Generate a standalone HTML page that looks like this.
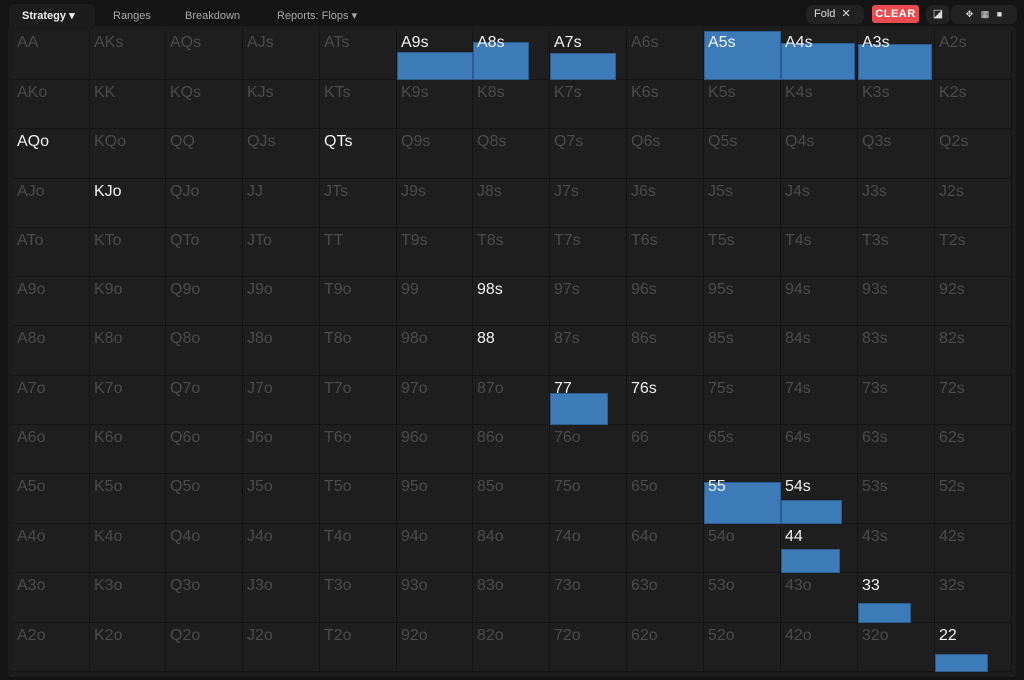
<!DOCTYPE html><html><head><style>
body{margin:0;width:1024px;height:680px;background:#141414;font-family:"Liberation Sans",sans-serif;overflow:hidden;position:relative}
.tab{position:absolute;top:5px;height:22px;line-height:22px;font-size:11px;color:#a8a8a8}
#panel{position:absolute;left:8px;top:26px;width:1008px;height:651px;background:#1c1c1c;border-radius:4px}
.c{position:absolute;background:#1e1e1e;box-shadow:inset -1px -1px 0 #141414}
.c span{position:absolute;left:4px;top:4px;font-size:16px;color:#4b4b4b;z-index:2}
.c span.w{color:#f2f2f2}
.b{position:absolute;background:#3d7ab8;border:1px solid #2a5d8e;box-sizing:border-box;z-index:1}
.btn{position:absolute;top:5px;height:19px;border-radius:7px;background:#222;font-size:11px;color:#ddd;line-height:19px}
</style></head><body>
<div style="position:absolute;left:9px;top:4px;width:86px;height:24px;background:#1c1c1c;border-radius:5px 5px 0 0"></div>
<div class="tab" style="left:22px;color:#eee;font-weight:bold">Strategy ▾</div>
<div class="tab" style="left:113px">Ranges</div>
<div class="tab" style="left:185px">Breakdown</div>
<div class="tab" style="left:277px">Reports: Flops ▾</div>
<div class="btn" style="left:806px;width:58px;padding-left:8px;box-sizing:border-box">Fold &nbsp;✕</div>
<div style="position:absolute;left:872px;top:5px;width:47px;height:18px;background:#e84c4f;border-radius:3px;color:#fff;font-size:11px;font-weight:bold;text-align:center;line-height:18px;letter-spacing:.5px">CLEAR</div>
<div class="btn" style="left:926px;width:24px;text-align:center">◪</div>
<div class="btn" style="left:951px;width:66px;font-size:9px;text-align:center">✥ &nbsp; ▦ &nbsp; ■</div>
<div id="panel"></div>
<div id="g"></div>
<script>
const r="AKQJT98765432";let h="";
const xs=[13,90,166,243,320,397,473,550,627,704,781,858,935,1012];
const ys=[30,80,129,179,228,277,326,376,425,474,524,573,623,672];
const white=new Set(["A9s","A8s","A7s","A5s","A4s","A3s","AQo","QTs","KJo","98s","88","77","76s","55","54s","44","33","22"]);
const bars={"A9s":[397,52,473],"A8s":[473,42,529],"A7s":[550,53,616],"A5s":[704,31,781],"A4s":[781,43,855],"A3s":[858,44,932],"77":[550,393,608],"55":[704,482,781],"54s":[781,500,842],"44":[781,549,840],"33":[858,603,911],"22":[935,654,988]};
for(let i=0;i<13;i++)for(let j=0;j<13;j++){
let n=i==j?r[i]+r[j]:i<j?r[i]+r[j]+"s":r[j]+r[i]+"o";
h+=`<div class="c" style="left:${xs[j]}px;top:${ys[i]}px;width:${xs[j+1]-xs[j]}px;height:${ys[i+1]-ys[i]}px"><span class="${white.has(n)?'w':''}">${n}</span></div>`;
if(bars[n]){const b=bars[n];h+=`<div class="b" style="left:${b[0]}px;top:${b[1]}px;width:${b[2]-b[0]}px;height:${ys[i+1]-b[1]}px"></div>`;}
}
document.getElementById("g").innerHTML=h;
</script>
</body></html>
